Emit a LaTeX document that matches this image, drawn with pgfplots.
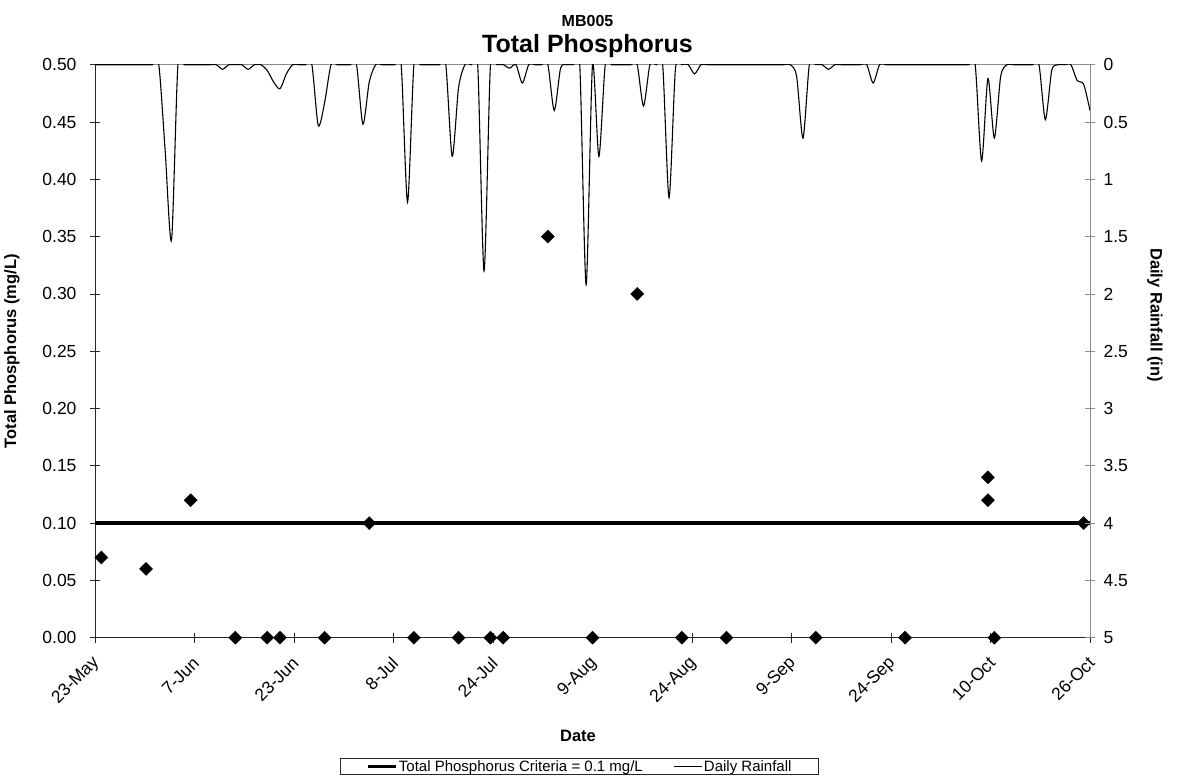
\documentclass[border=0pt]{standalone}
\usepackage{pgfplots}
\pgfplotsset{compat=1.18}
\usepackage{fontspec}
\setmainfont{Liberation Sans}
\begin{document}
\begin{tikzpicture}
\begin{axis}[
  at={(0,0)}, anchor=south west,
  width=995pt, height=573pt, scale only axis,
  xmin=0, xmax=156, ymin=0, ymax=0.5,
  clip=false,
  axis x line*=bottom, axis y line*=left,
  axis line style={black!85, line width=0.8pt},
  xtick={0,15.6,31.2,46.8,62.4,78,93.6,109.2,124.8,140.4,156},
  xticklabels={23-May,7-Jun,23-Jun,8-Jul,24-Jul,9-Aug,24-Aug,9-Sep,24-Sep,10-Oct,26-Oct},
  ytick={0,0.05,0.1,0.15,0.2,0.25,0.3,0.35,0.4,0.45,0.5},
  /pgf/number format/assume math mode=true,
  yticklabel style={/pgf/number format/fixed, /pgf/number format/fixed zerofill, /pgf/number format/precision=2, xshift=-10pt},
  tick align=center, major tick length=10pt,
  tick style={black!85, line width=0.8pt},
  ticklabel style={font=\fontsize{17.5}{20}\selectfont},
  xticklabel style={xshift=4pt, yshift=-15pt, rotate=45, anchor=east},
  legend columns=2,
  legend style={at={(axis description cs:0.487,0)}, anchor=north, yshift=-120.3pt,
    draw=black!85, line width=0.8pt, font=\fontsize{15}{17}\selectfont,
    inner xsep=26pt, inner ysep=1pt,
    nodes={inner sep=1pt},
    /tikz/every even column/.append style={column sep=30pt}},
  legend image code/.code={\draw[#1] (0pt,0pt) -- (28pt,0pt);},
]
\draw[black!45, line width=0.8pt] (axis description cs:0,1) -- (axis description cs:1,1);
\addplot[black, line width=3.3pt] coordinates {(0,0.1) (156,0.1)};
\addlegendentry{Total Phosphorus Criteria = 0.1 mg/L}
\addlegendimage{black, line width=1.1pt}
\addlegendentry{Daily Rainfall}
\addplot[only marks, mark=square*, mark size=4.6pt, mark options={rotate=45, fill=black, draw=black}, forget plot] coordinates {
(1,0.07) (8,0.06) (15,0.12) (22,0) (27,0) (29,0) (36,0) (43,0.10) (50,0) (57,0) (62,0) (64,0) (71,0.35) (78,0) (85,0.30) (92,0) (99,0) (113,0) (127,0) (140,0.14) (140,0.12) (141,0) (155,0.10)
};
\node[font=\bfseries\fontsize{16}{18}\selectfont, anchor=base] at (axis description cs:0.495,1.0668) {MB005};
\node[font=\bfseries\fontsize{25}{28}\selectfont, anchor=base] at (axis description cs:0.495,1.0215) {Total Phosphorus};
\node[font=\bfseries\fontsize{16.5}{18}\selectfont, anchor=center] at (axis description cs:0.4854,-0.1716) {Date};
\node[font=\bfseries\fontsize{16.5}{18}\selectfont, anchor=center, rotate=90] at (axis description cs:-0.0834,0.5) {Total Phosphorus (mg/L)};
\node[font=\bfseries\fontsize{16.5}{18}\selectfont, anchor=center, rotate=-90] at (axis description cs:1.0653,0.563) {Daily Rainfall (in)};
\end{axis}
\begin{axis}[
  at={(0,0)}, anchor=south west,
  width=995pt, height=573pt, scale only axis,
  xmin=0, xmax=156, ymin=0, ymax=5, y dir=reverse,
  axis x line=none, axis y line*=right,
  axis line style={black!45, line width=0.8pt},
  ytick={0,0.5,1,1.5,2,2.5,3,3.5,4,4.5,5},
  /pgf/number format/assume math mode=true,
  yticklabel style={xshift=5pt},
  tick align=center, major tick length=10pt,
  tick style={black!45, line width=0.8pt},
  ticklabel style={font=\fontsize{17.5}{20}\selectfont},
]
\addplot[black, line width=1.1pt, smooth, tension=0.45] coordinates {
(0,0) (1,0) (2,0) (3,0) (4,0) (5,0) (6,0) (7,0) (8,0) (9,0)
(10,0) (11,0.75) (12,1.53) (13,0) (14,0) (15,0) (16,0) (17,0) (18,0) (19,0)
(20,0.04) (21,0) (22,0) (23,0) (24,0.04) (25,0) (26,0) (27,0.05) (28,0.15) (29,0.21)
(30,0.08) (31,0) (32,0) (33,0) (34,0) (35,0.53) (36,0.33) (37,0) (38,0) (39,0)
(40,0) (41,0) (42,0.52) (43,0.15) (44,0) (45,0) (46,0) (47,0) (48,0) (49,1.2)
(50,0) (51,0) (52,0) (53,0) (54,0) (55,0) (56,0.8) (57,0.2) (58,0) (59,0)
(60,0) (61,1.8) (62,0) (63,0) (64,0) (65,0.03) (66,0) (67,0.16) (68,0) (69,0)
(70,0) (71,0) (72,0.4) (73,0.03) (74,0) (75,0) (76,0) (77,1.92) (78,0) (79,0.8)
(80,0) (81,0) (82,0) (83,0) (84,0) (85,0) (86,0.36) (87,0) (88,0) (89,0)
(90,1.16) (91,0.04) (92,0) (93,0) (94,0.08) (95,0) (96,0) (97,0) (98,0) (99,0)
(100,0) (101,0) (102,0) (103,0) (104,0) (105,0) (106,0) (107,0) (108,0) (109,0)
(110,0.1) (111,0.64) (112,0) (113,0) (114,0) (115,0.04) (116,0) (117,0) (118,0) (119,0)
(120,0) (121,0) (122,0.16) (123,0) (124,0) (125,0) (126,0) (127,0) (128,0) (129,0)
(130,0) (131,0) (132,0) (133,0) (134,0) (135,0) (136,0) (137,0) (138,0) (139,0.84)
(140,0.12) (141,0.64) (142,0.1) (143,0) (144,0) (145,0) (146,0) (147,0) (148,0) (149,0.48)
(150,0.05) (151,0) (152,0) (153,0) (154,0.14) (155,0.17) (156,0.40)
};
\end{axis}
\pgfresetboundingbox
\path (-95pt,-139.3pt) rectangle (1082pt,637.7pt);
\end{tikzpicture}
\end{document}
